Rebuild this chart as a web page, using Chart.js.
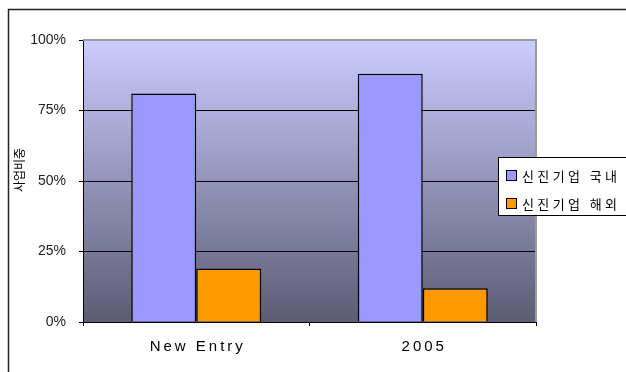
<!DOCTYPE html>
<html>
<head>
<meta charset="utf-8">
<script src="https://cdn.jsdelivr.net/npm/chart.js@4/dist/chart.umd.min.js"></script>
<style>
  html, body { margin: 0; padding: 0; background: #fff; }
  #wrap { position: relative; width: 626px; height: 372px; }
</style>
</head>
<body>
<div id="wrap"><canvas id="c" width="626" height="372"></canvas></div>
<script>
// Share of business: domestic vs. overseas, for new entrants and for 2005
const categories = ['New Entry', '2005'];
const seriesNames = ['신진기업 국내', '신진기업 해외'];
const domestic = [81, 88];
const overseas = [19, 12];
const yTicks = [0, 25, 50, 75, 100];
const yTitle = '사업비중';

const FONT = '"Liberation Sans", "DejaVu Sans", sans-serif';
const KFONT = '"Noto Sans CJK KR", sans-serif';

// draw text one glyph at a time with extra tracking
function spacedText(ctx, text, x, y, gap) {
  let cx = x;
  for (const ch of text) {
    ctx.fillText(ch, cx, y);
    cx += ctx.measureText(ch).width + gap;
  }
}
function spacedWidth(ctx, text, gap) {
  let w = 0;
  for (const ch of text) w += ctx.measureText(ch).width + gap;
  return w - gap;
}
// gap that stretches text to a given overall width
function gapFor(ctx, text, width) {
  const n = [...text].length;
  return (width - spacedWidth(ctx, text, 0)) / (n - 1);
}

const decor = {
  id: 'decor',
  beforeDraw(chart) {
    const { ctx, chartArea: a } = chart;
    ctx.save();
    // outer frame
    ctx.strokeStyle = '#222';
    ctx.lineWidth = 1.5;
    ctx.beginPath();
    ctx.moveTo(8.5, 400);
    ctx.lineTo(8.5, 9.5);
    ctx.lineTo(700, 9.5);
    ctx.stroke();
    // plot area gradient
    const g = ctx.createLinearGradient(0, a.top, 0, a.bottom);
    g.addColorStop(0, '#ccccff');
    g.addColorStop(1, '#5c5c74');
    ctx.fillStyle = g;
    ctx.fillRect(a.left, a.top, a.right - a.left, a.bottom - a.top);
    ctx.restore();
  },
  afterDraw(chart) {
    const { ctx, chartArea: a } = chart;
    ctx.save();
    // plot frame: top and right sides
    ctx.strokeStyle = '#9a9a9a';
    ctx.lineWidth = 2;
    ctx.beginPath();
    ctx.moveTo(a.left, a.top);
    ctx.lineTo(a.right, a.top);
    ctx.lineTo(a.right, a.bottom);
    ctx.stroke();

    // category labels, tracked out
    const xs = chart.scales.x;
    ctx.fillStyle = '#000';
    ctx.font = '15px ' + FONT;
    ctx.textAlign = 'left';
    ctx.textBaseline = 'middle';
    chart.data.labels.forEach((lab, i) => {
      const w = spacedWidth(ctx, lab, 3);
      spacedText(ctx, lab, xs.getPixelForTick(i) - w / 2, 347, 3);
    });

    // y axis title
    ctx.font = '12px ' + KFONT;
    ctx.textAlign = 'center';
    ctx.translate(19, 170);
    ctx.rotate(-Math.PI / 2);
    ctx.fillText(yTitle, 0, 0);
    ctx.restore();

    // legend
    ctx.save();
    const lx = 498.5, ly = 157.5;
    ctx.fillStyle = '#fff';
    ctx.fillRect(lx, ly, 200, 58);
    ctx.strokeStyle = '#000';
    ctx.lineWidth = 1;
    ctx.strokeRect(lx, ly, 200, 58);
    ctx.font = '13px ' + KFONT;
    ctx.textAlign = 'left';
    ctx.textBaseline = 'middle';
    chart.data.datasets.forEach((ds, i) => {
      const cy = 176 + i * 28;
      ctx.fillStyle = ds.backgroundColor;
      ctx.fillRect(506.5, cy - 5.5, 10, 10);
      ctx.strokeRect(506.5, cy - 5.5, 10, 10);
      ctx.fillStyle = '#000';
      spacedText(ctx, ds.label, 522, cy, gapFor(ctx, ds.label, 95));
    });
    ctx.restore();
  }
};

new Chart(document.getElementById('c'), {
  type: 'bar',
  data: {
    labels: categories,
    datasets: [
      { label: seriesNames[0], data: domestic, backgroundColor: '#9999ff', borderColor: '#000', borderWidth: 1.5 },
      { label: seriesNames[1], data: overseas, backgroundColor: '#ff9900', borderColor: '#000', borderWidth: 1.5 }
    ]
  },
  options: {
    responsive: false,
    animation: false,
    devicePixelRatio: 1,
    layout: { padding: { top: 40, right: 90, left: 0, bottom: 0 } },
    plugins: { legend: { display: false }, tooltip: { enabled: false } },
    datasets: { bar: { categoryPercentage: 0.574, barPercentage: 1 } },
    scales: {
      x: {
        grid: { drawOnChartArea: false, drawTicks: true, tickLength: 4, color: '#000', offset: true },
        border: { color: '#000', width: 1 },
        ticks: { display: false },
        afterFit(s) { s.height = 50; }
      },
      y: {
        min: 0, max: 100,
        afterBuildTicks(s) { s.ticks = yTicks.map(v => ({ value: v })); },
        grid: { color: '#000', lineWidth: 1, tickLength: 4 },
        border: { color: '#000', width: 1 },
        ticks: { color: '#222', font: { family: FONT, size: 14 }, padding: 13, callback: v => v + '%' },
        afterFit(s) { s.width = 83; }
      }
    }
  },
  plugins: [decor]
});
</script>
</body>
</html>
